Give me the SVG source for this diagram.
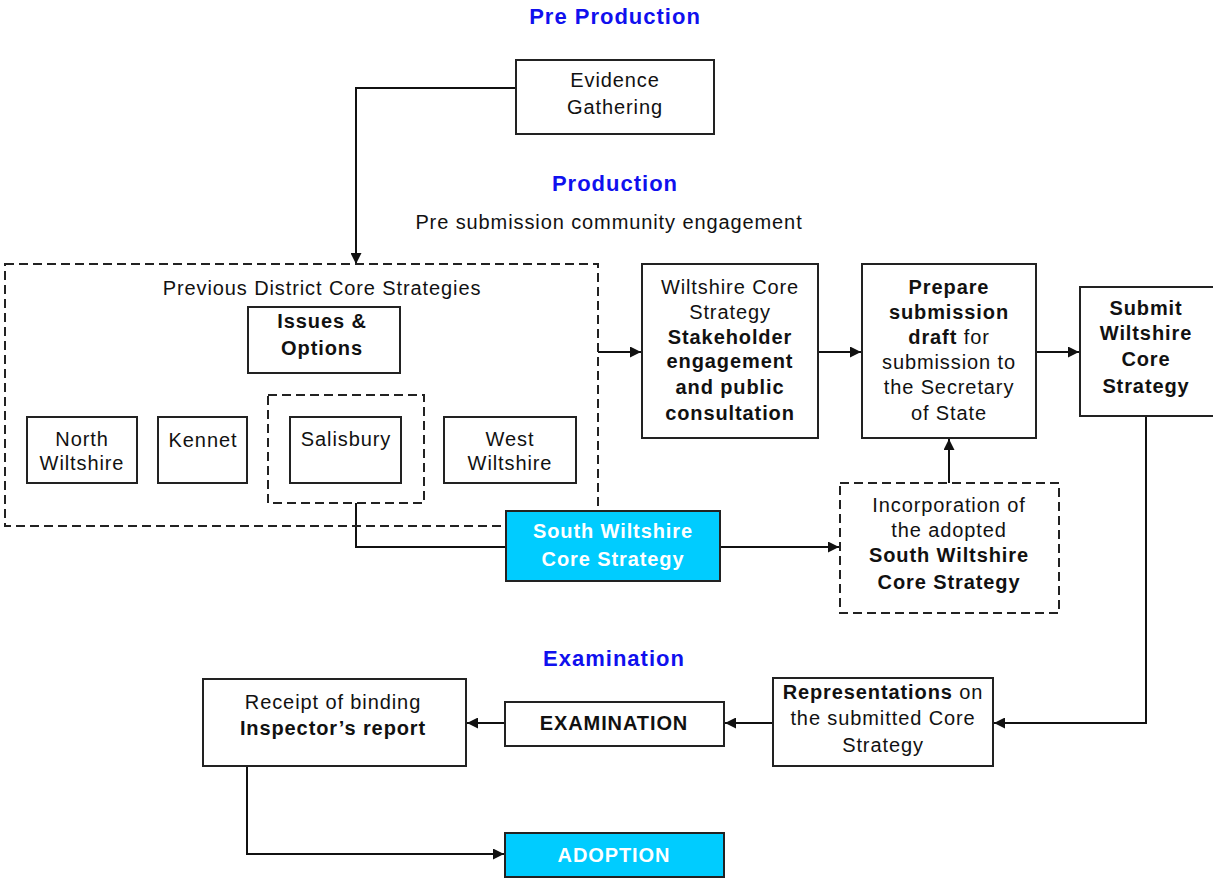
<svg xmlns="http://www.w3.org/2000/svg" width="1213" height="881" viewBox="0 0 1213 881">
  <style>
    .box { fill: #ffffff; stroke: #222222; stroke-width: 2; }
    .dash { fill: none; stroke: #222222; stroke-width: 2; stroke-dasharray: 9 5; }
    .cyan { fill: #00ccff; stroke: #222222; stroke-width: 2; }
    .wire { fill: none; stroke: #111111; stroke-width: 2; }
    text { font-family: "Liberation Sans", Arial, sans-serif; font-size: 20px; letter-spacing: 0.9px; fill: #111111; text-anchor: middle; }
    .b { font-weight: bold; }
    .title { font-weight: bold; font-size: 22px; letter-spacing: 1px; fill: #1010ee; }
    .white { fill: #ffffff; font-weight: bold; }
  </style>
  <defs>
    <marker id="arrow" viewBox="0 0 10 10" refX="10" refY="5" markerWidth="11" markerHeight="11" markerUnits="userSpaceOnUse" orient="auto">
      <path d="M0,0 L10,5 L0,10 z" fill="#111111"/>
    </marker>
  </defs>
  <rect width="1213" height="881" fill="#ffffff"/>

  <!-- phase headings -->
  <text class="title" x="615" y="24">Pre Production</text>
  <text class="title" x="615" y="191">Production</text>
  <text x="609" y="229">Pre submission community engagement</text>
  <text class="title" x="614" y="666">Examination</text>

  <!-- connectors -->
  <g id="connectors">
    <path class="wire" d="M516,88 H356 V264" marker-end="url(#arrow)"/>
    <path class="wire" d="M598,352 H641" marker-end="url(#arrow)"/>
    <path class="wire" d="M818,352 H861" marker-end="url(#arrow)"/>
    <path class="wire" d="M1036,352 H1079" marker-end="url(#arrow)"/>
    <path class="wire" d="M356,503 V547 H506"/>
    <path class="wire" d="M720,547 H839" marker-end="url(#arrow)"/>
    <path class="wire" d="M949,483 V439" marker-end="url(#arrow)"/>
    <path class="wire" d="M1146,416 V723 H994" marker-end="url(#arrow)"/>
    <path class="wire" d="M773,723 H725" marker-end="url(#arrow)"/>
    <path class="wire" d="M505,723 H467" marker-end="url(#arrow)"/>
    <path class="wire" d="M247,766 V854 H504" marker-end="url(#arrow)"/>
  </g>

  <g id="evidence">
    <rect class="box" x="516" y="60" width="198" height="74"/>
    <text x="615" y="87">Evidence</text>
    <text x="615" y="114">Gathering</text>
  </g>

  <g id="previous-district">
    <rect class="dash" x="5" y="264" width="593" height="262"/>
    <text x="322" y="295">Previous District Core Strategies</text>
  </g>

  <g id="issues-options">
    <rect class="box" x="248" y="307" width="152" height="66"/>
    <text class="b" x="322" y="328">Issues &amp;</text>
    <text class="b" x="322" y="355">Options</text>
  </g>

  <g id="north-wiltshire">
    <rect class="box" x="27" y="417" width="110" height="66"/>
    <text x="82" y="446">North</text>
    <text x="82" y="470">Wiltshire</text>
  </g>

  <g id="kennet">
    <rect class="box" x="158" y="417" width="89" height="66"/>
    <text x="203" y="447">Kennet</text>
  </g>

  <g id="salisbury-group">
    <rect class="dash" x="268" y="395" width="156" height="108"/>
  </g>

  <g id="salisbury">
    <rect class="box" x="290" y="417" width="111" height="66"/>
    <text x="346" y="446">Salisbury</text>
  </g>

  <g id="west-wiltshire">
    <rect class="box" x="444" y="417" width="132" height="66"/>
    <text x="510" y="446">West</text>
    <text x="510" y="470">Wiltshire</text>
  </g>

  <g id="south-wiltshire">
    <rect class="cyan" x="506" y="511" width="214" height="70"/>
    <text class="white" x="613" y="538">South Wiltshire</text>
    <text class="white" x="613" y="566">Core Strategy</text>
  </g>

  <g id="stakeholder">
    <rect class="box" x="642" y="264" width="176" height="174"/>
    <text x="730" y="294">Wiltshire Core</text>
    <text x="730" y="319">Strategy</text>
    <text class="b" x="730" y="344">Stakeholder</text>
    <text class="b" x="730" y="368">engagement</text>
    <text class="b" x="730" y="394">and public</text>
    <text class="b" x="730" y="420">consultation</text>
  </g>

  <g id="prepare">
    <rect class="box" x="862" y="264" width="174" height="174"/>
    <text class="b" x="949" y="294">Prepare</text>
    <text class="b" x="949" y="319">submission</text>
    <text x="949" y="344"><tspan class="b">draft</tspan> for</text>
    <text x="949" y="369">submission to</text>
    <text x="949" y="394">the Secretary</text>
    <text x="949" y="420">of State</text>
  </g>

  <g id="submit">
    <rect class="box" x="1080" y="287" width="134" height="129"/>
    <text class="b" x="1146" y="315">Submit</text>
    <text class="b" x="1146" y="340">Wiltshire</text>
    <text class="b" x="1146" y="366">Core</text>
    <text class="b" x="1146" y="393">Strategy</text>
  </g>

  <g id="incorporation">
    <rect class="dash" x="840" y="483" width="219" height="130"/>
    <text x="949" y="512">Incorporation of</text>
    <text x="949" y="537">the adopted</text>
    <text class="b" x="949" y="562">South Wiltshire</text>
    <text class="b" x="949" y="589">Core Strategy</text>
  </g>

  <g id="representations">
    <rect class="box" x="773" y="678" width="220" height="88"/>
    <text x="883" y="699"><tspan class="b">Representations</tspan> on</text>
    <text x="883" y="725">the submitted Core</text>
    <text x="883" y="752">Strategy</text>
  </g>

  <g id="examination">
    <rect class="box" x="505" y="702" width="219" height="44"/>
    <text class="b" x="614" y="730">EXAMINATION</text>
  </g>

  <g id="inspector-report">
    <rect class="box" x="203" y="679" width="263" height="87"/>
    <text x="333" y="709">Receipt of binding</text>
    <text class="b" x="333" y="735">Inspector’s report</text>
  </g>

  <g id="adoption">
    <rect class="cyan" x="505" y="833" width="219" height="44"/>
    <text class="white" x="614" y="862">ADOPTION</text>
  </g>
</svg>
